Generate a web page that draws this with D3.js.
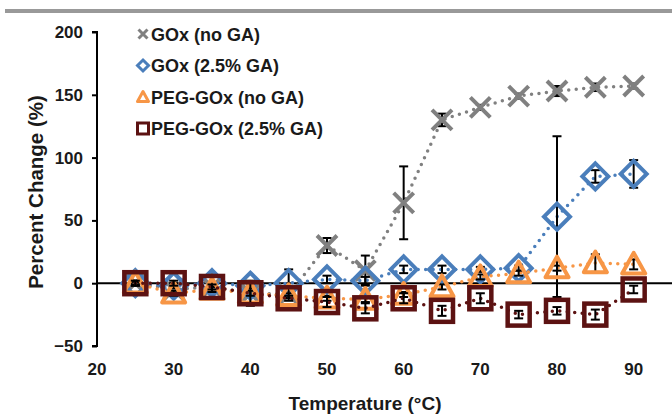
<html>
<head>
  <meta charset="utf-8">
  <script src="https://d3js.org/d3.v7.min.js"></script>
  <style>
    body { margin: 0; background: #fff; }
    text { font-family: "Liberation Sans", Arial, sans-serif; font-weight: bold; fill: #1a1a1a; }
  </style>
</head>
<body>
  <svg id="chart" width="672" height="415"></svg>
  <script>
    // temperatures (°C)
    var temps = [25, 30, 35, 40, 45, 50, 55, 60, 65, 70, 75, 80, 85, 90];

    var goxNoGA = [0, -5, -3, -8, -9, 30, 10, 64, 130, 140, 149, 153, 156, 157];
    var goxNoGAErr = [2, 2, 2, 2, 2, 6, 12, 29, 5, 2, 2, 4, 3, 2];

    var goxGA = [0, -2, 0, -2, 0, 3, 2, 11, 11, 11, 12, 53, 85, 87];
    var goxGAErr = [1, 2, 7, 2, 11, 3, 3, 3, 3, 2, 2, 64, 5, 11];

    var pegNoGA = [0, -8, -5, -8, -10, -12, -13, -9, -3, 5, 8, 12, 16, 15];
    var pegNoGAErr = [2, 2, 2, 2, 2, 2, 2, 2, 2, 2, 2, 2, 7, 4];

    var pegGA = [0, 0, -3, -8, -12, -15, -20, -12, -22, -12, -25, -22, -25, -5];
    var pegGAErr = [2, 2, 2, 10, 2, 4, 4, 4, 4, 4, 3, 3, 4, 3];

    var seriesNames = ["GOx (no GA)", "GOx (2.5% GA)", "PEG-GOx (no GA)", "PEG-GOx (2.5% GA)"];
    var seriesColors = ["#808080", "#4a7ebb", "#f79646", "#5c1212"];
    var seriesShapes = ["x", "diamond", "triangle", "square"];

    var xTicks = [20, 30, 40, 50, 60, 70, 80, 90];
    var yTicks = [-50, 0, 50, 100, 150, 200];

    var svg = d3.select("#chart");

    // grey band at top
    svg.append("rect").attr("x", 5).attr("y", 9).attr("width", 667).attr("height", 4).attr("fill", "#999");

    var x = d3.scaleLinear().domain([20, 95]).range([97, 672]);
    var y = d3.scaleLinear().domain([-50, 200]).range([346, 32]);

    // y axis
    var yAxis = svg.append("g")
      .attr("transform", "translate(" + x(20) + ",0)")
      .call(d3.axisLeft(y).tickValues(yTicks).tickSize(5).tickPadding(9));
    yAxis.select(".domain").attr("d", "M-5," + y(200) + "H0V" + y(-50) + "H-5").attr("stroke", "#000").attr("stroke-width", 2).attr("fill", "none");
    yAxis.selectAll(".tick line").attr("stroke", "#000").attr("stroke-width", 2);
    yAxis.selectAll(".tick text").attr("font-size", 17).style("fill", "#1a1a1a");

    // x axis line at zero
    svg.append("line").attr("x1", x(20)).attr("x2", x(95)).attr("y1", y(0)).attr("y2", y(0))
      .attr("stroke", "#000").attr("stroke-width", 2);

    // x tick labels at bottom
    svg.append("g").selectAll("text").data(xTicks).enter().append("text")
      .attr("x", d => x(d)).attr("y", 375).attr("text-anchor", "middle").attr("font-size", 17)
      .text(d => d);

    // titles
    svg.append("text").attr("x", 365).attr("y", 410).attr("text-anchor", "middle").attr("font-size", 19)
      .text("Temperature (°C)");
    svg.append("text").attr("transform", "translate(43,192) rotate(-90)").attr("text-anchor", "middle").attr("font-size", 20.5)
      .text("Percent Change (%)");

    var allVals = [goxNoGA, goxGA, pegNoGA, pegGA];
    var allErrs = [goxNoGAErr, goxGAErr, pegNoGAErr, pegGAErr];

    function drawMarker(g, shape, color, size, sw) {
      var h = size / 2;
      if (shape === "x") {
        g.append("path").attr("d", "M" + (-h) + "," + (-h) + "L" + h + "," + h + "M" + (-h) + "," + h + "L" + h + "," + (-h))
          .attr("stroke", color).attr("stroke-width", sw).attr("fill", "none");
      } else if (shape === "diamond") {
        g.append("path").attr("d", "M0," + (-h) + "L" + h + ",0L0," + h + "L" + (-h) + ",0Z")
          .attr("stroke", color).attr("stroke-width", sw).attr("fill", "none");
      } else if (shape === "triangle") {
        g.append("path").attr("d", "M0," + (-h) + "L" + h + "," + (h * 0.8) + "L" + (-h) + "," + (h * 0.8) + "Z")
          .attr("stroke", color).attr("stroke-width", sw).attr("fill", "none").attr("stroke-linejoin", "round");
      } else {
        g.append("rect").attr("x", -h).attr("y", -h).attr("width", size).attr("height", size)
          .attr("stroke", color).attr("stroke-width", sw).attr("fill", "none");
      }
    }

    var line = d3.line().x((d, i) => x(temps[i])).y(d => y(d));

    allVals.forEach(function (vals, s) {
      var g = svg.append("g");
      g.append("path").datum(vals).attr("d", line).attr("fill", "none")
        .attr("stroke", seriesColors[s]).attr("stroke-width", 3.5)
        .attr("stroke-dasharray", "0 7.5").attr("stroke-linecap", "round");

      var errs = allErrs[s];
      vals.forEach(function (v, i) {
        var cx = x(temps[i]);
        var e = errs[i];
        var eg = g.append("g");
        eg.append("line").attr("x1", cx).attr("x2", cx).attr("y1", y(v - e)).attr("y2", y(v + e))
          .attr("stroke", "#000").attr("stroke-width", 2);
        [v - e, v + e].forEach(function (ev) {
          eg.append("line").attr("x1", cx - 4.5).attr("x2", cx + 4.5).attr("y1", y(ev)).attr("y2", y(ev))
            .attr("stroke", "#000").attr("stroke-width", 2);
        });
        var mg = g.append("g").attr("transform", "translate(" + cx + "," + y(v) + ")");
        var shp = seriesShapes[s];
        var size = shp === "x" ? 20 : (shp === "diamond" ? 26 : (shp === "triangle" ? 23 : 22));
        drawMarker(mg, shp, seriesColors[s], size, shp === "square" ? 4.5 : 4);
      });
    });

    // legend
    var legend = svg.append("g");
    seriesNames.forEach(function (name, i) {
      var ly = 34 + i * 31.5;
      var mg = legend.append("g").attr("transform", "translate(143," + ly + ")");
      drawMarker(mg, seriesShapes[i], seriesColors[i], i === 0 ? 9 : 11, 3);
      legend.append("text").attr("x", 151).attr("y", ly + 6.5).attr("font-size", 18).text(name);
    });
  </script>
</body>
</html>
